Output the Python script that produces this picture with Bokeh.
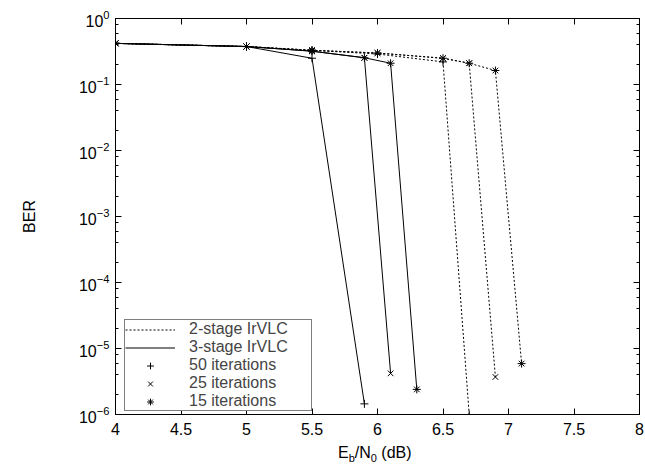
from bokeh.plotting import figure
from bokeh.models import Legend, LegendItem, LinearAxis, LogAxis, FixedTicker, LogTicker, Div
from bokeh.layouts import column
from bokeh.embed import file_html
from bokeh.resources import INLINE

# ---- data ----
x3_50 = [4, 5, 5.5, 5.9]
y3_50 = [0.42, 0.376, 0.25, 1.45e-6]
x3_25 = [4, 5, 5.5, 5.9, 6.1]
y3_25 = [0.42, 0.376, 0.32, 0.254, 4.2e-6]
x3_15 = [4, 5, 5.5, 5.9, 6.1, 6.3]
y3_15 = [0.42, 0.376, 0.32, 0.254, 0.21, 2.4e-6]
x2_50 = [4, 5, 5.5, 6, 6.5, 6.7]
y2_50 = [0.42, 0.376, 0.33, 0.29, 0.22, 1.0e-6]
x2_25 = [4, 5, 5.5, 6, 6.5, 6.7, 6.9]
y2_25 = [0.42, 0.376, 0.33, 0.30, 0.25, 0.21, 3.7e-6]
x2_15 = [4, 5, 5.5, 6, 6.5, 6.7, 6.9, 7.1]
y2_15 = [0.42, 0.376, 0.33, 0.30, 0.25, 0.21, 0.163, 5.9e-6]

x_ticks = [4, 4.5, 5, 5.5, 6, 6.5, 7, 7.5, 8]
x_tick_labels = ["4", "4.5", "5", "5.5", "6", "6.5", "7", "7.5", "8"]

legend_labels = ["2-stage IrVLC", "3-stage IrVLC", "50 iterations", "25 iterations", "15 iterations"]

FONT = "Liberation Sans"
FS = "16px"
W = 645

p = figure(width=W, height=443, x_range=(4, 8), y_range=(1e-6, 1), y_axis_type="log",
           output_backend="svg", toolbar_location=None,
           min_border_left=115, min_border_right=6, min_border_top=18, min_border_bottom=29)
p.xgrid.visible = False
p.ygrid.visible = False
p.outline_line_color = "black"
p.background_fill_color = "white"

# x axis
p.xaxis.ticker = FixedTicker(ticks=x_ticks)
p.xaxis.major_label_overrides = dict(zip(x_ticks, x_tick_labels))
for ax in [p.xaxis[0], p.yaxis[0]]:
    ax.major_tick_in = 6
    ax.major_tick_out = 0
    ax.minor_tick_in = 3
    ax.minor_tick_out = 0
    ax.axis_line_color = "black"
    ax.major_tick_line_color = "black"
    ax.minor_tick_line_color = "black"
    ax.major_label_text_font = FONT
    ax.major_label_text_font_size = FS
    ax.major_label_text_color = "black"
p.xaxis.minor_tick_line_color = None
p.xaxis.major_label_standoff = 8
p.yaxis.major_label_standoff = 6
p.yaxis.ticker = LogTicker(num_minor_ticks=5)
p.yaxis.axis_label = "BER"
p.yaxis.axis_label_text_font = FONT
p.yaxis.axis_label_text_font_size = FS
p.yaxis.axis_label_text_font_style = "normal"
p.yaxis.axis_label_text_color = "black"
p.yaxis.axis_label_standoff = 38

top = LinearAxis(ticker=FixedTicker(ticks=x_ticks), major_label_text_font_size="1px",
                 major_label_text_color=None,
                 major_label_standoff=0, major_tick_in=6, major_tick_out=0,
                 minor_tick_line_color=None, axis_line_color="black")
p.add_layout(top, "above")
right = LogAxis(ticker=LogTicker(num_minor_ticks=5), major_label_text_font_size="1px",
                major_label_text_color=None,
                major_label_standoff=0, major_tick_in=6, major_tick_out=0,
                minor_tick_in=3, minor_tick_out=0, axis_line_color="black")
p.add_layout(right, "right")

# curves
SZ = 8
def curve(xs, ys, dash, marker):
    ln = p.line(xs, ys, line_color="black", line_width=1, line_dash=dash)
    sc = p.scatter(xs, ys, marker=marker, size=SZ, line_color="black", fill_color="black", line_width=1)
    return ln, sc

l3_50, s3_50 = curve(x3_50, y3_50, "solid", "cross")
l3_25, s3_25 = curve(x3_25, y3_25, "solid", "x")
l3_15, s3_15 = curve(x3_15, y3_15, "solid", "asterisk")
l2_50, s2_50 = curve(x2_50, y2_50, "2 2", "cross")
l2_25, s2_25 = curve(x2_25, y2_25, "2 2", "x")
l2_15, s2_15 = curve(x2_15, y2_15, "2 2", "asterisk")

items = [LegendItem(label=l, renderers=[r])
         for l, r in zip(legend_labels, [l2_50, l3_50, s3_50, s3_25, s3_15])]
legend = Legend(items=items, location=(9, 3), label_text_font=FONT, label_text_font_size=FS,
                border_line_color="black", border_line_width=1, padding=0, spacing=0,
                glyph_height=17, label_height=17, glyph_width=50, label_standoff=14,
                label_width=122, margin=0, background_fill_alpha=1)
p.add_layout(legend)

# x axis title with real subscripts, as HTML text under the plot
sub = 'font-size:11px; vertical-align:-4px; line-height:0'
xlabel = Div(text=(f'<div style="font-family:\'{FONT}\'; font-size:{FS}; line-height:18px; '
                   f'padding-left:338px; padding-top:1px; color:black; white-space:nowrap">'
                   f'E<span style="{sub}">b</span>/N<span style="{sub}">0</span> (dB)</div>'),
             width=W, height=22, margin=0)

layout = column(p, xlabel, spacing=0)
open("out.html", "w").write(file_html(layout, INLINE))
